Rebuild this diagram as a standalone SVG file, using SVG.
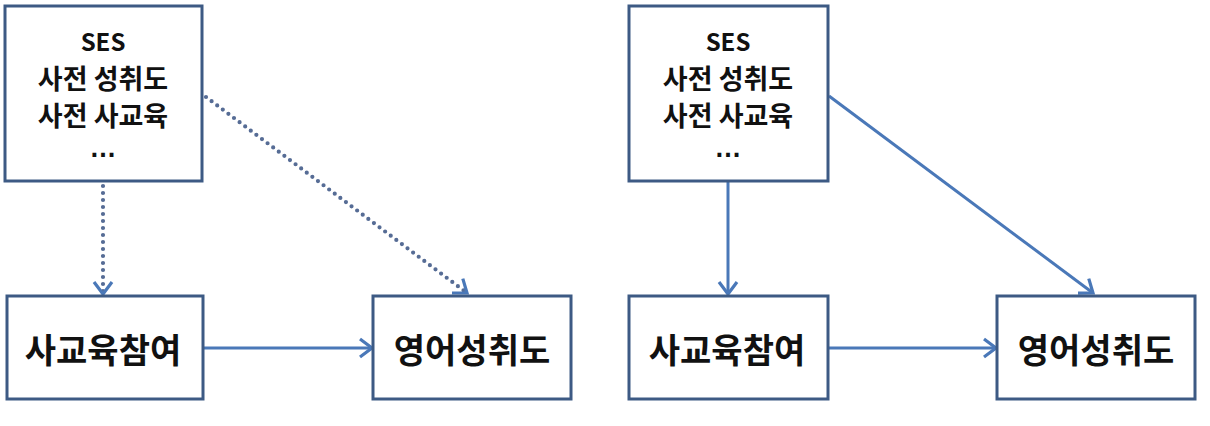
<svg xmlns="http://www.w3.org/2000/svg" width="1210" height="426" viewBox="0 0 1210 426">
<style>
.box{fill:#fff;stroke:#3d5a84;stroke-width:3}
.t{font-family:"Noto Sans CJK KR","Liberation Sans",sans-serif;fill:#111;text-anchor:middle}
.big{font-size:34px;font-weight:bold}
.mid{font-size:27px;font-weight:bold}
.ses{font-size:24px;font-weight:bold}
.ell{font-family:"Liberation Sans",sans-serif;font-size:27px;font-weight:bold;fill:#111;text-anchor:middle}
.c{fill:none;stroke:#4a78b8;stroke-width:3}
.dot{stroke:#566c95;stroke-width:4.2;stroke-linecap:round;stroke-dasharray:0 7}
</style>
<defs>
<marker id="ah" markerUnits="userSpaceOnUse" markerWidth="30" markerHeight="30" viewBox="-15 -15 30 30" refX="0" refY="0" orient="auto">
<path d="M-12,-9 L0,0 L-12,9" fill="none" stroke="#4a78b8" stroke-width="3.2" stroke-linejoin="miter"/>
</marker>
</defs>
<g id="connectors">
<line class="c dot" x1="103" y1="186" x2="103" y2="294" marker-end="url(#ah)"/>
<line class="c dot" x1="206" y1="97" x2="467" y2="293" marker-end="url(#ah)"/>
<line class="c" x1="204" y1="348" x2="372" y2="348" marker-end="url(#ah)"/>
<line class="c" x1="728" y1="182" x2="728" y2="294" marker-end="url(#ah)"/>
<line class="c" x1="829" y1="96" x2="1093" y2="293" marker-end="url(#ah)"/>
<line class="c" x1="829" y1="348" x2="996" y2="348" marker-end="url(#ah)"/>
</g>
<g id="left-ses">
<rect class="box" x="5" y="6" width="197" height="175"/>
<text class="t ses" x="103" y="40" dominant-baseline="central">SES</text>
<text class="t mid" x="103" y="77" dominant-baseline="central">사전 성취도</text>
<text class="t mid" x="103" y="114" dominant-baseline="central">사전 사교육</text>
<text class="ell" x="103" y="157">…</text>
</g>
<g id="left-private">
<rect class="box" x="7" y="296" width="196" height="103"/>
<text class="t big" x="103" y="348" dominant-baseline="central">사교육참여</text>
</g>
<g id="left-english">
<rect class="box" x="373" y="296" width="198" height="103"/>
<text class="t big" x="472" y="348" dominant-baseline="central">영어성취도</text>
</g>
<g id="right-ses">
<rect class="box" x="629" y="6" width="199" height="175"/>
<text class="t ses" x="728" y="40" dominant-baseline="central">SES</text>
<text class="t mid" x="728" y="77" dominant-baseline="central">사전 성취도</text>
<text class="t mid" x="728" y="114" dominant-baseline="central">사전 사교육</text>
<text class="ell" x="728" y="157">…</text>
</g>
<g id="right-private">
<rect class="box" x="629" y="296" width="199" height="103"/>
<text class="t big" x="727" y="348" dominant-baseline="central">사교육참여</text>
</g>
<g id="right-english">
<rect class="box" x="997" y="296" width="198" height="103"/>
<text class="t big" x="1096" y="348" dominant-baseline="central">영어성취도</text>
</g>
</svg>
